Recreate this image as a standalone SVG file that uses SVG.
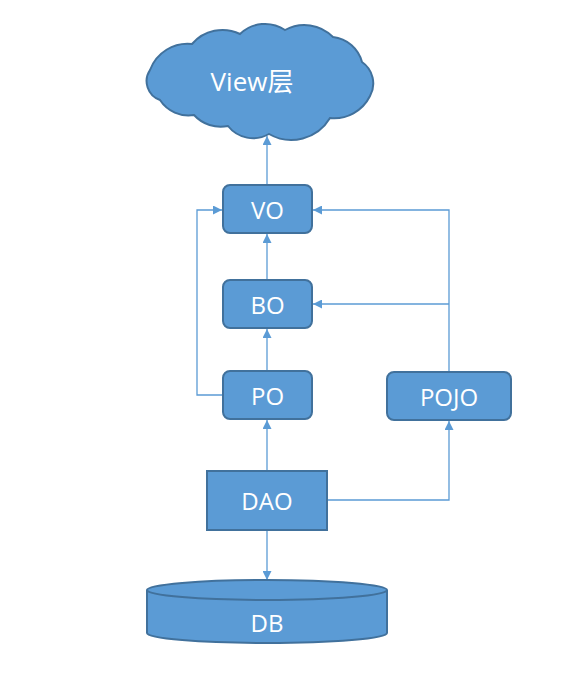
<svg xmlns="http://www.w3.org/2000/svg" width="562" height="682" viewBox="0 0 562 682">
<style>
.n{fill:#5B9BD5;stroke:#41719C;stroke-width:2}
.t{fill:#fff;font-family:"Open Sans","Liberation Sans","Noto Sans CJK SC",sans-serif;font-size:24px;text-anchor:middle;dominant-baseline:central}
.c{fill:none;stroke:#5B9BD5;stroke-width:1.3}
</style>
<defs>
<marker id="a" viewBox="0 0 10 10" refX="10" refY="5" markerWidth="9" markerHeight="9" markerUnits="userSpaceOnUse" orient="auto">
<path d="M0,0 L10,5 L0,10 Z" fill="#5B9BD5"/>
</marker>
</defs>
<rect width="562" height="682" fill="#fff"/>
<g id="connectors">
<path class="c" d="M267,185 V136" marker-end="url(#a)"/>
<path class="c" d="M267,280 V234" marker-end="url(#a)"/>
<path class="c" d="M267,371 V329" marker-end="url(#a)"/>
<path class="c" d="M267,470 V420" marker-end="url(#a)"/>
<path class="c" d="M267,530 V580" marker-end="url(#a)"/>
<path class="c" d="M327,500 H449 V421" marker-end="url(#a)"/>
<path class="c" d="M449,372 V210 H313" marker-end="url(#a)"/>
<path class="c" d="M449,304 H313" marker-end="url(#a)"/>
<path class="c" d="M223,395 H197 V210 H222" marker-end="url(#a)"/>
</g>
<g id="view">
<path class="n" d="M160,100 A20 20 0 0 1 150,70 A40 40 0 0 1 192,44 A40 40 0 0 1 240,34 A36 36 0 0 1 285,30 A40 40 0 0 1 333,37 A34 34 0 0 1 362,62 A26 26 0 0 1 370,96 A40 40 0 0 1 330,118 A45 45 0 0 1 269,134 A32 32 0 0 1 228,126 A36 36 0 0 1 194,115 A34 34 0 0 1 160,100 Z"/>
<text class="t" x="252" y="81" style="font-size:26px">View层</text>
</g>
<g id="vo"><rect class="n" x="223" y="185" width="89" height="48" rx="7"/><text class="t" x="267.5" y="209">VO</text></g>
<g id="bo"><rect class="n" x="223" y="280" width="89" height="48" rx="7"/><text class="t" x="267.5" y="304">BO</text></g>
<g id="po"><rect class="n" x="223" y="371" width="89" height="48" rx="7"/><text class="t" x="267.5" y="395">PO</text></g>
<g id="pojo"><rect class="n" x="387" y="372" width="124" height="48" rx="7"/><text class="t" x="449" y="396">POJO</text></g>
<g id="dao"><rect class="n" x="207" y="471" width="120" height="59"/><text class="t" x="267" y="500">DAO</text></g>
<g id="db">
<path class="n" d="M147,590 V633 A120 10 0 0 0 387,633 V590"/>
<ellipse class="n" cx="267" cy="590" rx="120" ry="10"/>
<text class="t" x="267" y="622">DB</text>
</g>
</svg>
